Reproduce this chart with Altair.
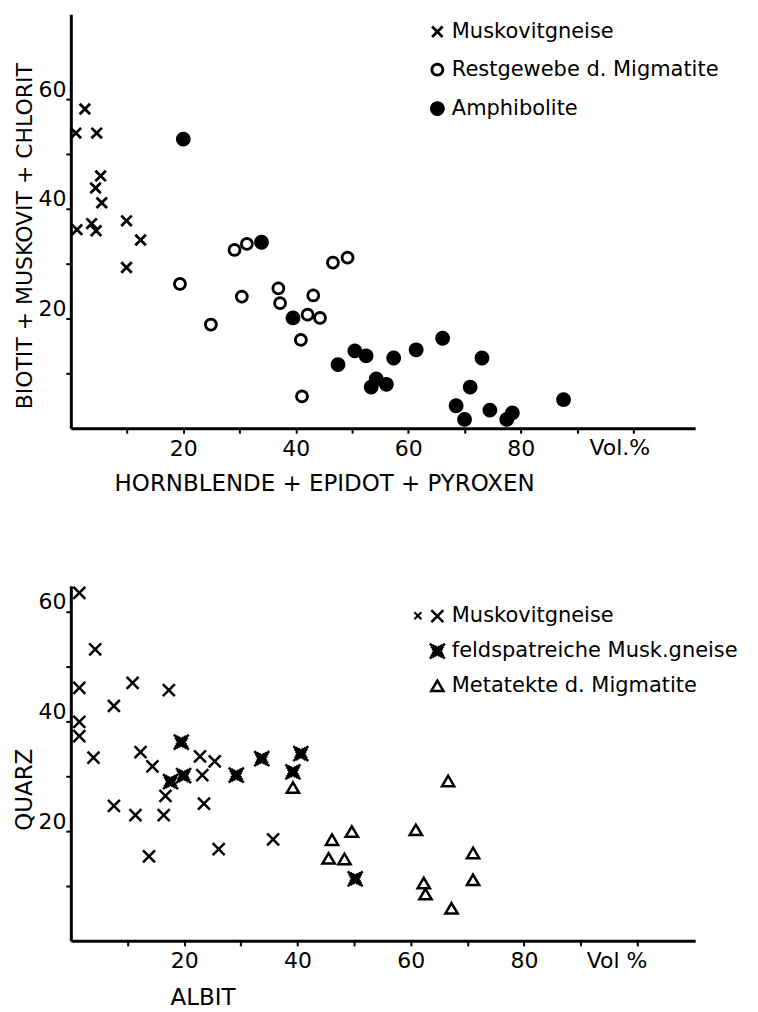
import math
import altair as alt
import pandas as pd

FONT = "DejaVu Sans"

# ---------------- top panel data ----------------
top_groups = ["Muskovitgneise", "Restgewebe d. Migmatite", "Amphibolite"]

top_musk_x = [2.5, 0.9, 4.6, 5.3, 4.4, 5.5, 1.1, 3.7, 4.5, 9.9, 12.4, 9.9]
top_musk_y = [58.2, 53.8, 53.8, 46.0, 43.8, 41.1, 36.2, 37.3, 36.0, 37.8, 34.3, 29.3]

top_rest_x = [19.4, 24.9, 29.1, 31.3, 30.4, 36.9, 37.2, 42.1, 43.1, 44.3, 40.9, 41.1, 46.6, 49.2]
top_rest_y = [26.3, 18.9, 32.5, 33.6, 24.0, 25.5, 22.8, 20.7, 24.2, 20.1, 16.1, 5.8, 30.2, 31.1]

top_amph_x = [20.0, 33.9, 39.5, 47.5, 50.5, 52.5, 53.4, 54.3, 56.1, 57.4, 61.4, 66.1,
              68.5, 70.0, 71.0, 73.1, 74.5, 77.5, 78.5, 87.6]
top_amph_y = [52.7, 33.9, 20.1, 11.6, 14.1, 13.2, 7.5, 9.0, 8.0, 12.8, 14.3, 16.4,
              4.1, 1.6, 7.5, 12.8, 3.3, 1.6, 2.8, 5.2]

top_x_title = "HORNBLENDE + EPIDOT + PYROXEN"
top_y_title = "BIOTIT + MUSKOVIT + CHLORIT"
top_unit = ["Vol.%"]
top_unit_x = [97.6]

# ---------------- bottom panel data ----------------
bot_groups = ["Muskovitgneise", "feldspatreiche  Musk.gneise", "Metatekte d. Migmatite"]

bot_musk_x = [1.5, 4.3, 1.5, 10.9, 17.3, 7.6, 1.5, 1.5, 4.0, 12.3, 14.4, 22.8, 25.4,
              23.2, 16.7, 23.5, 7.6, 11.4, 16.4, 13.8, 26.1, 35.7]
bot_musk_y = [63.4, 53.1, 46.1, 47.0, 45.7, 42.8, 39.9, 37.3, 33.4, 34.4, 31.8, 33.6, 32.7,
              30.2, 26.4, 25.0, 24.6, 22.9, 22.9, 15.4, 16.7, 18.5]

bot_feld_x = [19.5, 17.6, 19.9, 29.2, 33.7, 39.2, 40.6, 50.2]
bot_feld_y = [36.2, 29.0, 30.1, 30.2, 33.2, 30.8, 34.1, 11.3]

bot_meta_x = [39.2, 66.6, 49.6, 46.1, 45.5, 48.3, 60.9, 71.0, 71.0, 62.3, 62.6, 67.2]
bot_meta_y = [27.9, 29.1, 19.9, 18.4, 15.0, 14.9, 20.2, 16.0, 11.1, 10.5, 8.5, 5.9]

bot_x_title = "ALBIT"
bot_y_title = "QUARZ"
bot_unit = ["Vol %"]
bot_unit_x = [96.4]

tick_values_x = [10, 20, 30, 40, 50, 60, 70, 80, 90, 100]
tick_values_y = [10, 20, 30, 40, 50, 60]


# ---------------- symbol outlines (unit box -1..1) ----------------
def ring(r, n=24):
    pts = [(r * math.cos(2 * math.pi * i / n), r * math.sin(2 * math.pi * i / n))
           for i in range(n)]
    return "M" + "L".join(f"{px:.3f},{py:.3f}" for px, py in pts) + "Z"


def xlines(a):
    return f"M{-a},{-a}L{a},{a}M{-a},{a}L{a},{-a}"


def offset_x(a, d):
    # the two diagonals shifted sideways by d (unit box), length +-a
    return (
        f"M{-a + d:.3f},{-a - d:.3f}L{a + d:.3f},{a - d:.3f}"
        f"M{-a - d:.3f},{-a + d:.3f}L{a - d:.3f},{a + d:.3f}"
        f"M{-a + d:.3f},{a + d:.3f}L{a + d:.3f},{-a + d:.3f}"
        f"M{-a - d:.3f},{a - d:.3f}L{a - d:.3f},{-a - d:.3f}"
    )


CROSS_TOP = xlines(0.7)
CIRCLE_TOP = ring(0.73)
DISK_TOP = ring(0.8) + ring(0.56) + ring(0.32) + ring(0.1)

CROSS_BOT = xlines(0.8)
BOLD_BOT = (
    xlines(1.0) + offset_x(0.75, 0.09) + offset_x(0.5, 0.17)
    + ring(0.33) + ring(0.12)
)
TRI_BOT = "M0,-0.72L0.82,0.68L-0.82,0.68Z"


def frame(field, groups, xs_list, ys_list):
    parts = []
    for g, xs, ys in zip(groups, xs_list, ys_list):
        parts.append(pd.DataFrame({"x": xs, "y": ys, field: g}))
    return pd.concat(parts, ignore_index=True)


top_df = frame("Gruppe", top_groups, [top_musk_x, top_rest_x, top_amph_x],
               [top_musk_y, top_rest_y, top_amph_y])
bot_df = frame("Typ", bot_groups, [bot_musk_x, bot_feld_x, bot_meta_x],
               [bot_musk_y, bot_feld_y, bot_meta_y])


def x_axis(title, tx, ty, fs):
    return alt.Axis(
        values=tick_values_x,
        labelExpr="(datum.value % 20 == 0 && datum.value <= 80) ? datum.label : ''",
        title=title, titleX=tx, titleY=ty, titleAlign="center", titleBaseline="alphabetic",
        titleFont=FONT, titleFontSize=fs, titleFontWeight="normal", titleColor="black",
        labelFont=FONT, labelFontSize=22, labelColor="black", labelPadding=5,
        labelFlush=False, labelOverlap=False,
        tickSize=5, tickWidth=2, tickColor="black",
        domainColor="black", domainWidth=3, grid=False,
    )


def y_axis(title, tx, ty, fs):
    return alt.Axis(
        values=tick_values_y,
        labelExpr="(datum.value % 20 == 0) ? datum.label : ''",
        title=title, titleX=tx, titleY=ty, titleAngle=270, titleAlign="center",
        titleBaseline="middle",
        titleFont=FONT, titleFontSize=fs, titleFontWeight="normal", titleColor="black",
        labelFont=FONT, labelFontSize=22, labelColor="black", labelPadding=0,
        labelBaseline="alphabetic", labelOffset=-3,
        labelFlush=False, labelOverlap=False,
        tickSize=5, tickWidth=2, tickColor="black",
        domainColor="black", domainWidth=3, grid=False,
    )


SYM_SIZE = 225


def legend(lx, ly, row_pad, sw):
    return alt.Legend(
        title=None, orient="none", legendX=lx, legendY=ly, padding=0,
        labelFont=FONT, labelFontSize=21, labelColor="black", labelOffset=4,
        labelLimit=0, rowPadding=row_pad,
        symbolSize=SYM_SIZE, symbolStrokeWidth=sw, symbolStrokeColor="black",
        symbolFillColor="transparent", symbolOpacity=1,
    )


def panel(df, field, groups, shapes, sw, xdom, ydom, xax, yax, leg, unit, unit_x):
    xs = alt.Scale(domain=xdom, nice=False, zero=False)
    ys = alt.Scale(domain=ydom, nice=False, zero=False)
    pts = alt.Chart(df).mark_point(
        filled=False, stroke="black", strokeWidth=sw, size=SYM_SIZE, opacity=1
    ).encode(
        x=alt.X("x:Q", scale=xs, axis=xax),
        y=alt.Y("y:Q", scale=ys, axis=yax),
        shape=alt.Shape(field + ":N", scale=alt.Scale(domain=groups, range=shapes),
                        legend=leg),
    )
    unit_df = pd.DataFrame({"x": unit_x, "y": [0] * len(unit), "t": unit})
    txt = alt.Chart(unit_df).mark_text(
        font=FONT, fontSize=22, color="black", baseline="top", align="center", dy=10
    ).encode(
        x=alt.X("x:Q", scale=xs, axis=xax),
        y=alt.Y("y:Q", scale=ys, axis=yax),
        text="t:N",
    )
    return pts, txt


top_pts, top_txt = panel(
    top_df, "Gruppe", top_groups,
    [CROSS_TOP, CIRCLE_TOP, DISK_TOP], 2.8,
    [0, 111], [0, 75.45],
    x_axis(top_x_title, 254, 62, 23),
    y_axis(top_y_title, -46, 222, 22),
    legend(357, 7, 15, 2.8),
    top_unit, top_unit_x,
)
top = alt.layer(top_pts, top_txt).properties(width=626, height=415)

bot_pts, bot_txt = panel(
    bot_df, "Typ", bot_groups,
    [CROSS_BOT, BOLD_BOT, TRI_BOT], 2.5,
    [0, 110.2], [0, 64.7],
    x_axis(bot_x_title, 132, 64, 23),
    y_axis(bot_y_title, -46, 204, 23),
    legend(357, 20, 11, 2.5),
    bot_unit, bot_unit_x,
)
# small extra cross in front of the first legend entry ("xx Muskovitgneise")
extra = alt.Chart(pd.DataFrame({"k": ["x"]})).mark_point(
    shape=xlines(1.0), size=50, strokeWidth=2, stroke="black", opacity=1
).encode(x=alt.value(348), y=alt.value(30))
bottom = alt.layer(bot_pts, bot_txt, extra).properties(width=626, height=356)

chart = alt.vconcat(top, bottom, spacing=158, bounds="flush").resolve_scale(
    shape="independent"
).resolve_legend(
    shape="independent"
).configure_view(
    stroke=None
).properties(
    padding={"left": 5, "top": 5, "right": 5, "bottom": 5},
    background="white",
)

chart.save("out.html", embed_options={"renderer": "svg", "actions": False})
